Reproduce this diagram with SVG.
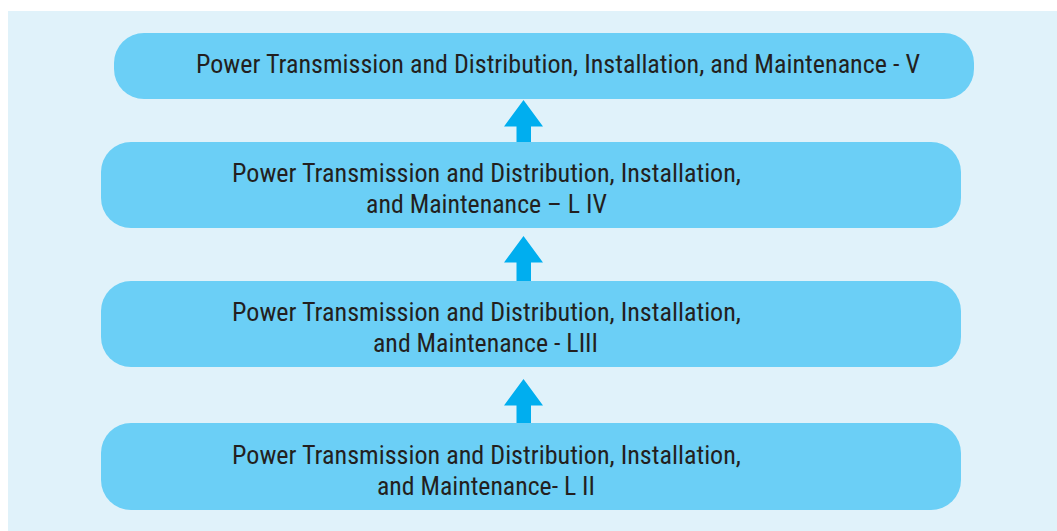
<svg xmlns="http://www.w3.org/2000/svg" width="1057" height="531" viewBox="0 0 1057 531">
<style>
.box{fill:#6BCFF6;}
.arrow{fill:#00AEEF;}
.t{font-family:"Roboto Condensed",Roboto,"Liberation Sans",sans-serif;font-size:25px;fill:#231F20;}
</style>
<rect x="0" y="0" width="1057" height="531" fill="#FFFFFF"/>
<rect x="8" y="11" width="1049" height="520" fill="#E0F2FA"/>
<g id="connectors">
<polygon class="arrow" points="523.5,100 504,126.5 516.5,126.5 516.5,142 531,142 531,126.5 543,126.5"/>
<polygon class="arrow" points="523.5,236 504,262.5 516.5,262.5 516.5,281 531,281 531,262.5 543,262.5"/>
<polygon class="arrow" points="523.5,379 504,405.5 516.5,405.5 516.5,423 531,423 531,405.5 543,405.5"/>
</g>
<g id="node-v">
<rect class="box" x="114" y="33" width="860" height="66" rx="30"/>
<text class="t" x="196" y="73" textLength="724" lengthAdjust="spacingAndGlyphs">Power Transmission and Distribution, Installation, and Maintenance - V</text>
</g>
<g id="node-iv">
<rect class="box" x="101" y="142" width="860" height="86" rx="30"/>
<text class="t" x="232" y="182" textLength="509" lengthAdjust="spacingAndGlyphs">Power Transmission and Distribution, Installation,</text>
<text class="t" x="366" y="213" textLength="241" lengthAdjust="spacingAndGlyphs">and Maintenance – L IV</text>
</g>
<g id="node-iii">
<rect class="box" x="101" y="281" width="860" height="86" rx="30"/>
<text class="t" x="232" y="321" textLength="509" lengthAdjust="spacingAndGlyphs">Power Transmission and Distribution, Installation,</text>
<text class="t" x="373" y="352" textLength="225" lengthAdjust="spacingAndGlyphs">and Maintenance - LIII</text>
</g>
<g id="node-ii">
<rect class="box" x="101" y="423" width="860" height="87" rx="30"/>
<text class="t" x="232" y="464" textLength="509" lengthAdjust="spacingAndGlyphs">Power Transmission and Distribution, Installation,</text>
<text class="t" x="377" y="495" textLength="218" lengthAdjust="spacingAndGlyphs">and Maintenance- L II</text>
</g>
</svg>
